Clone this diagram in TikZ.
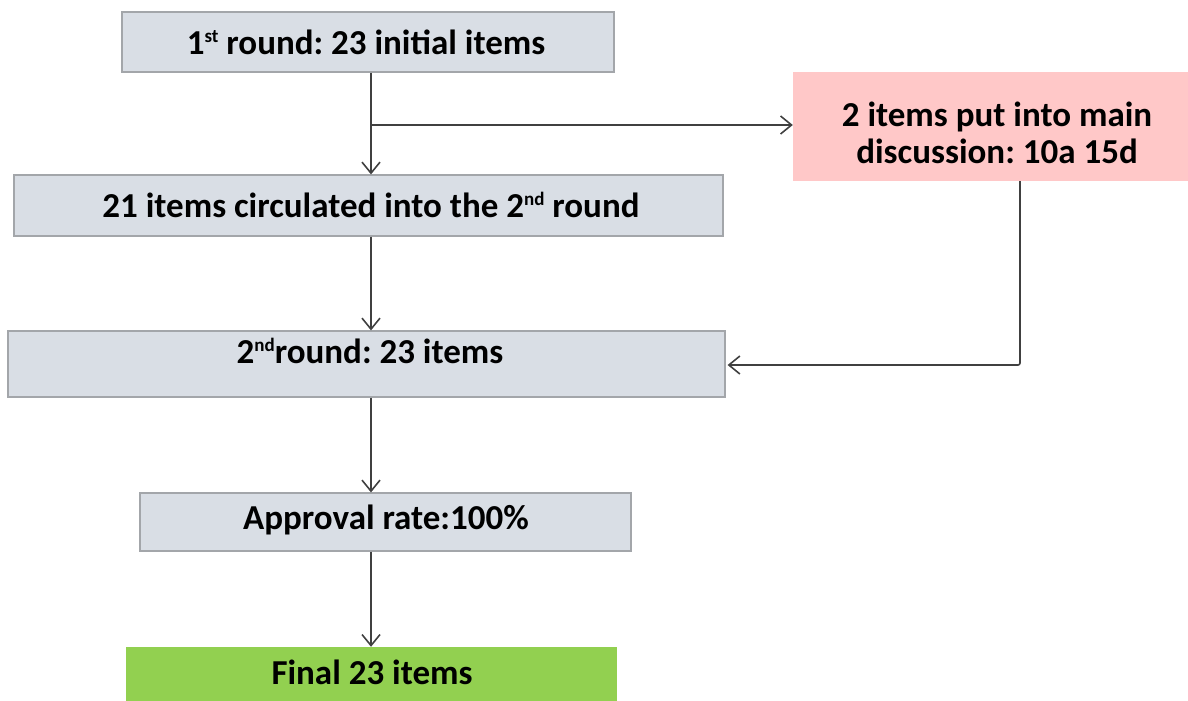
\documentclass[tikz,border=0pt]{standalone}
\usepackage{fontspec}
\setmainfont{Carlito}
\usetikzlibrary{arrows.meta}
\frenchspacing
\definecolor{boxgray}{HTML}{D9DEE5}
\definecolor{boxline}{HTML}{A3A6AA}
\definecolor{pinkfill}{HTML}{FFC8C8}
\definecolor{greenfill}{HTML}{92D050}
\definecolor{linegray}{HTML}{404040}
\newcommand{\sups}[1]{\raisebox{0.32em}{\fontsize{19}{19}\selectfont #1}}
\begin{document}
\begin{tikzpicture}[x=1pt,y=-1pt,
  gbox/.style={draw=boxline, fill=boxgray, line width=1.2pt, inner sep=0pt},
  pbox/.style={fill=pinkfill, inner sep=0pt},
  fbox/.style={fill=greenfill, inner sep=0pt},
  lbl/.style={inner sep=0pt, font=\frenchspacing\bfseries\fontsize{35}{40}\selectfont},
  conn/.style={draw=linegray, line width=1.6pt, -{Straight Barb[length=11pt,width=18pt,line width=1.6pt]}}]
\useasboundingbox (0,0) rectangle (1188,701);
\begin{scope}
\clip (0,0) rectangle (1188,701);
\node[gbox, minimum width=492pt, minimum height=60pt] (b1) at (368,42) {};
\node[lbl] (b1t) at (366,42) {1\sups{st} round: 23 initial items};
\node[pbox, minimum width=395pt, minimum height=109pt] (pink) at (990.5,126.5) {};
\node[lbl, align=center, font=\frenchspacing\bfseries\fontsize{35}{37}\selectfont] (ptxt) at (997,133) {2 items put into main\\discussion: 10a 15d};
\node[gbox, minimum width=709pt, minimum height=61pt] (b2) at (368.5,205.5) {};
\node[lbl] (b2t) at (371,205) {21 items circulated into the 2\sups{nd} round};
\node[gbox, minimum width=717pt, minimum height=66pt] (b3) at (366.5,364) {};
\node[lbl] (b3t) at (370,351) {2\sups{nd}round: 23 items};
\node[gbox, minimum width=491pt, minimum height=58pt] (b4) at (385.5,522) {};
\node[lbl] (b4t) at (386,520) {Approval rate:100\%};
\node[fbox, minimum width=491pt, minimum height=60pt] (b5) at (371.5,677) {};
\node[lbl] (b5t) at (372,672) {Final 23 items};
\end{scope}
\coordinate (trunk) at (371,0);
\coordinate (br) at (371,125);
\coordinate (pk) at (1020,181);
\coordinate (ret) at (1020,365);
\draw[conn] (b1.south -| trunk) -- (b2.north -| trunk);
\draw[conn] (br) -- (br -| pink.west);
\draw[conn] (b2.south -| trunk) -- (b3.north -| trunk);
\draw[conn] (b3.south -| trunk) -- (b4.north -| trunk);
\draw[conn] (b4.south -| trunk) -- (b5.north -| trunk);
\draw[conn, rounded corners=2pt] (pk) -- (ret) -- ([xshift=2pt]ret -| b3.east);
\end{tikzpicture}
\end{document}
